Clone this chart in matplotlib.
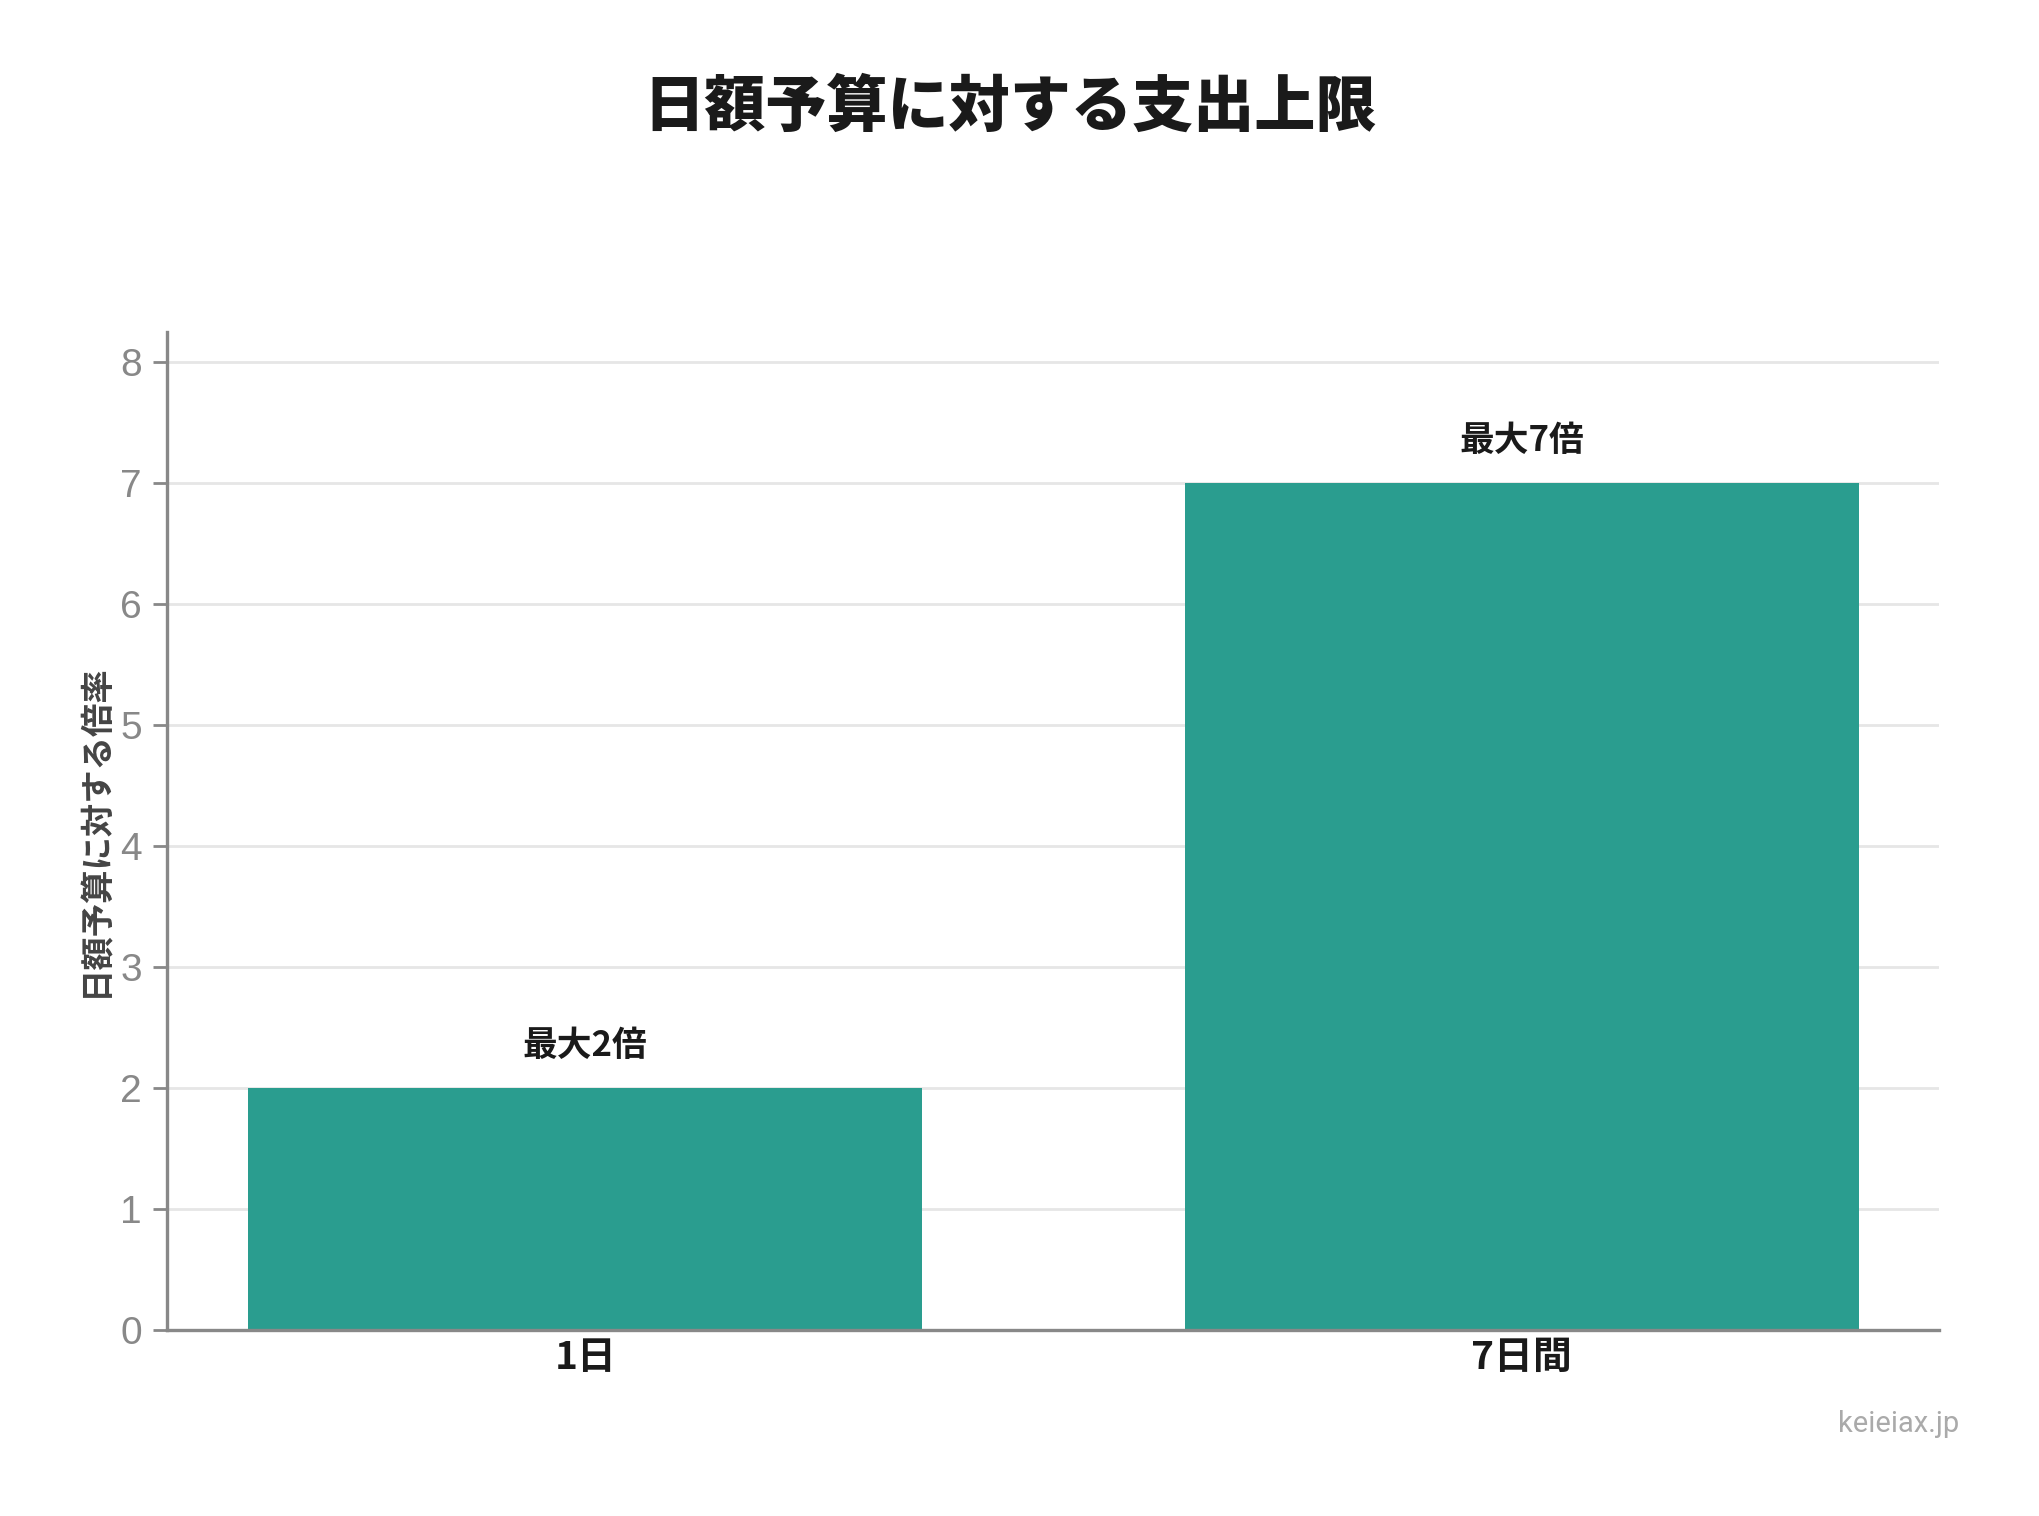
import matplotlib
matplotlib.use("Agg")
import matplotlib.pyplot as plt

# データ
categories = ["1日", "7日間"]
multipliers = [2, 7]
bar_labels = ["最大2倍", "最大7倍"]
yticks = [0, 1, 2, 3, 4, 5, 6, 7, 8]

title = "日額予算に対する支出上限"
ylabel = "日額予算に対する倍率"
watermark = "keieiax.jp"

cjk = ["Noto Sans CJK JP", "DejaVu Sans"]
bar_color = "#2a9d8f"
axis_gray = "#888888"

fig = plt.figure(figsize=(10.2, 7.58), dpi=200)
ax = fig.add_axes([0.0819, 0.123, 0.8684, 0.6582])

x = list(range(len(categories)))
ax.bar(x, multipliers, width=0.72, color=bar_color, zorder=2)

# バーの上にラベル
for xi, v, lab in zip(x, multipliers, bar_labels):
    ax.annotate(lab, (xi, v), xytext=(0, 9), textcoords="offset points",
                ha="center", va="bottom", fontsize=12.5, fontweight="bold",
                family=cjk, color="#1a1a1a")

ax.set_xlim(-0.4465, 1.445)
ax.set_ylim(0, 8.25)
ax.set_yticks(yticks)
ax.set_xticks(x)
ax.set_xticklabels(categories, family=cjk, fontsize=14, fontweight="bold", color="#1a1a1a")
for t in ax.get_yticklabels():
    t.set_family("Liberation Sans")
ax.tick_params(axis="y", colors=axis_gray, labelsize=14, length=5, width=1, pad=4)
ax.tick_params(axis="x", length=0, pad=3)

ax.grid(axis="y", color="#e6e6e6", linewidth=1, zorder=0)
ax.set_axisbelow(True)
for s in ["top", "right"]:
    ax.spines[s].set_visible(False)
for s in ["left", "bottom"]:
    ax.spines[s].set_color(axis_gray)
    ax.spines[s].set_linewidth(1.2)

ax.set_ylabel(ylabel, family=cjk, fontsize=12, fontweight="bold", color="#444444", labelpad=3)

fig.text(0.4953, 0.929, title, ha="center", va="center", fontsize=22,
         fontweight=900, family=cjk, color="#1a1a1a")
fig.text(0.9605, 0.061, watermark, ha="right", va="center", fontsize=10.5,
         family="Roboto", color="#aaaaaa")

fig.savefig("out.png", dpi=200, facecolor="white")
